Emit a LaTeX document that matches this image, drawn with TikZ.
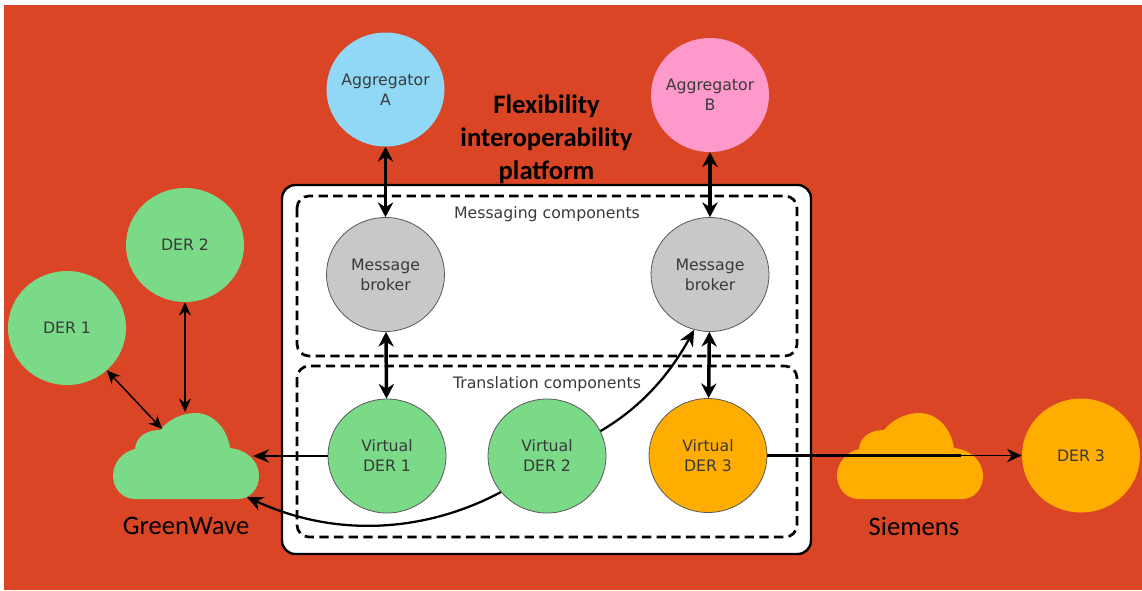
\documentclass[tikz,border=0pt]{standalone}
\usepackage{fontspec}
\setmainfont{DejaVu Sans}
\newfontfamily\calfont{Carlito}
\usetikzlibrary{arrows.meta,shapes.geometric}
\definecolor{bgred}{HTML}{DA4526}
\definecolor{dgreen}{HTML}{7ADA88}
\definecolor{dorange}{HTML}{FFAD00}
\definecolor{ablue}{HTML}{90D8F5}
\definecolor{apink}{HTML}{FF99CC}
\definecolor{bgrey}{HTML}{C8C8C8}
\definecolor{txt}{HTML}{3A3A3A}
\tikzset{
  ball/.style={ellipse,minimum width=88.5pt,minimum height=85.5pt,inner sep=-10pt,align=center,
    text=txt,font=\fontsize{11.8}{15}\selectfont},
  rimmed/.style={ball,draw=black!65,line width=0.6pt},
  dashbox/.style={draw=black,line width=2pt,dash pattern=on 7pt off 4pt,rounded corners=9pt},
  heading/.style={text=txt,font=\fontsize{11.8}{13}\selectfont,inner sep=0pt},
  brand/.style={font=\calfont\fontsize{20}{22}\selectfont,text=black,inner sep=0pt},
  fat/.style={line width=2.6pt,{Stealth[length=11pt,width=11.5pt]}-{Stealth[length=11pt,width=11.5pt]}},
  slim/.style={line width=1.1pt,{Stealth[length=10pt,width=9pt]}-{Stealth[length=10pt,width=9pt]}},
  oneway/.style={line width=1.7pt,-{Stealth[length=12pt,width=11pt]}}
}
\newcommand{\cloudpath}[2]{%
  \fill[#2,xshift=#1*0.75pt]
    (135,499) .. controls (122,499) and (113,488) .. (113,476)
    .. controls (113,463) and (122,452) .. (135,449)
    .. controls (136,437) and (146,430) .. (160,430)
    .. controls (168,420) and (182,413) .. (195,413)
    .. controls (213,413) and (227,428) .. (230,448)
    .. controls (248,450) and (259,462) .. (259,476)
    .. controls (259,489) and (250,499) .. (238,499) -- cycle;}
\begin{document}
\begin{tikzpicture}[x=0.75pt,y=-0.75pt]
\useasboundingbox (0,0) rectangle (1142,590);
\fill[bgred] (4,5) rectangle (1142,590);
% platform
\draw[fill=white,draw=black,line width=1.8pt,rounded corners=10pt] (282,185) rectangle (811,554);
\draw[dashbox] (297,196) rectangle (797,356);
\draw[dashbox] (297,366) rectangle (797,537);
\node[heading] (msgc) at (547,214) {Messaging components};
\node[heading] (trac) at (547,384) {Translation components};
% title
\node[font=\calfont\bfseries\fontsize{20}{24.75}\selectfont,align=center,text=black,inner sep=0pt] (title) at (546.5,139) {Flexibility\\interoperability\\platform};
% clouds
\cloudpath{0}{dgreen}
\cloudpath{724}{dorange}
\coordinate (gwtopl) at (162,429);
\coordinate (gwtop) at (185,412);
\coordinate (gwright) at (253,456);
\coordinate (gwlow) at (247,497);
\coordinate (siemr) at (961,455.5);
\node[brand] (gw) at (186,526) {GreenWave};
\node[brand] (siem) at (914,526) {Siemens};
% circles
\node[ball,fill=ablue] (aggA) at (385.5,89.5) {Aggregator\\A};
\node[ball,fill=apink] (aggB) at (710,95) {Aggregator\\B};
\node[rimmed,fill=bgrey] (mb1) at (385.5,274.5) {Message\\broker};
\node[rimmed,fill=bgrey] (mb2) at (710,274.5) {Message\\broker};
\node[rimmed,fill=dgreen] (v1) at (387,456) {Virtual\\DER 1};
\node[rimmed,fill=dgreen] (v2) at (547,456) {Virtual\\DER 2};
\node[rimmed,fill=dorange] (v3) at (708,455.5) {Virtual\\DER 3};
\node[ball,fill=dgreen] (d1) at (67,328) {DER 1};
\node[ball,fill=dgreen] (d2) at (185,245) {DER 2};
\node[ball,fill=dorange] (d3) at (1081,455.5) {DER 3};
% connectors
\draw[fat] (aggA) -- (mb1);
\draw[fat] (aggB) -- (mb2);
\draw[fat] (mb1) -- (v1);
\draw[fat] (mb2) -- (v3);
\draw[slim] (d1) -- (gwtopl);
\draw[slim] (d2) -- (gwtop);
\draw[line width=1.8pt,-{Stealth[length=12pt,width=10pt]}] (v1) -- (gwright);
\draw[oneway] (v2.25) .. controls (645,405) and (672,370) .. (mb2.254);
\draw[oneway] (v2.218) .. controls (430,530) and (340,540) .. (gwlow);
\draw[line width=1.1pt,-{Stealth[length=11pt,width=10pt]}] (v3) -- (d3);
\draw[line width=1.9pt] (v3.east) -- (siemr);
\end{tikzpicture}
\end{document}
